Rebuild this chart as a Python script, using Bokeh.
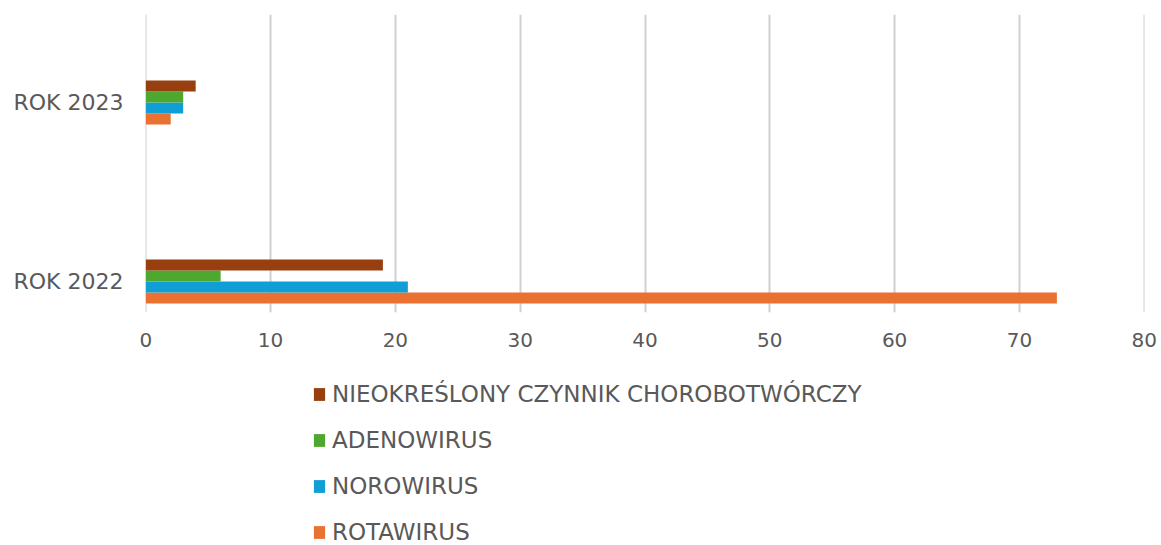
from bokeh.plotting import figure
from bokeh.models import Range1d, FixedTicker, Legend, LegendItem, ColumnDataSource
from bokeh.layouts import column
from bokeh.embed import file_html
from bokeh.resources import INLINE

categories = ["ROK 2022", "ROK 2023"]
series = ["ROTAWIRUS", "NOROWIRUS", "ADENOWIRUS", "NIEOKREŚLONY CZYNNIK CHOROBOTWÓRCZY"]
rotawirus = [73, 2]
norowirus = [21, 3]
adenowirus = [6, 3]
nieokreslony = [19, 4]
colors = ["#E97132", "#0F9ED5", "#4EA72E", "#983F10"]
x_ticks = [0, 10, 20, 30, 40, 50, 60, 70, 80]

values = [rotawirus, norowirus, adenowirus, nieokreslony]

FONT = "DejaVu Sans"
GREY = "#595959"

p = figure(width=1158, height=362, output_backend="svg", toolbar_location=None,
           x_range=Range1d(-0.02, 80.02), y_range=Range1d(-0.173, 1.4916),
           min_border_left=145, min_border_right=14, min_border_top=14,
           min_border_bottom=50)
p.outline_line_color = None
p.background_fill_color = "white"
p.border_fill_color = "white"

cat_pos = list(range(len(categories)))
bar_h = 0.0614
n = len(series)
for i, (name, vals, col) in enumerate(zip(series, values, colors)):
    off = (i - (n - 1) / 2) * bar_h
    src = ColumnDataSource(dict(y=[c + off for c in cat_pos], right=vals))
    p.hbar(y="y", right="right", left=0, height=bar_h, source=src,
           fill_color=col, line_color=None)

# axes
p.xaxis.ticker = FixedTicker(ticks=x_ticks)
p.xaxis.axis_line_color = None
p.xaxis.major_tick_line_color = None
p.xaxis.minor_tick_line_color = None
p.xaxis.major_tick_out = 0
p.xaxis.major_label_standoff = 20
p.xaxis.major_label_text_font = FONT
p.xaxis.major_label_text_font_size = "20px"
p.xaxis.major_label_text_color = GREY

p.yaxis.ticker = FixedTicker(ticks=cat_pos)
p.yaxis.major_label_overrides = {c: lab for c, lab in zip(cat_pos, categories)}
p.yaxis.axis_line_color = None
p.yaxis.major_tick_line_color = None
p.yaxis.minor_tick_line_color = None
p.yaxis.major_tick_out = 0
p.yaxis.major_label_standoff = 22
p.yaxis.major_label_text_font = FONT
p.yaxis.major_label_text_font_size = "22px"
p.yaxis.major_label_text_color = GREY

p.ygrid.grid_line_color = None
p.xgrid.grid_line_color = "#d0d0d0"
p.xgrid.grid_line_width = 2
p.xgrid.level = "underlay"

# legend figure (frames are aligned by the column layout)
lg = figure(width=1158, height=183, output_backend="svg", toolbar_location=None,
            x_range=Range1d(0, 1), y_range=Range1d(0, 1),
            x_axis_type=None, y_axis_type=None,
            min_border_left=145, min_border_right=14, min_border_top=0,
            min_border_bottom=0)
lg.outline_line_color = None
lg.xgrid.grid_line_color = None
lg.ygrid.grid_line_color = None
items = []
for name, col in reversed(list(zip(series, colors))):
    r = lg.hbar(y=[-5], right=[0.1], left=0, height=0.1, fill_color=col, line_color=None)
    items.append(LegendItem(label=name, renderers=[r]))
legend = Legend(items=items, location=(167, 0), orientation="vertical",
                glyph_width=14, glyph_height=16, label_standoff=6,
                spacing=20, padding=0, margin=0,
                label_text_font=FONT, label_text_font_size="23px",
                label_text_color=GREY, border_line_color=None,
                background_fill_alpha=0)
lg.add_layout(legend, "center")

layout = column(p, lg, spacing=0)
open("out.html", "w").write(file_html(layout, INLINE))
